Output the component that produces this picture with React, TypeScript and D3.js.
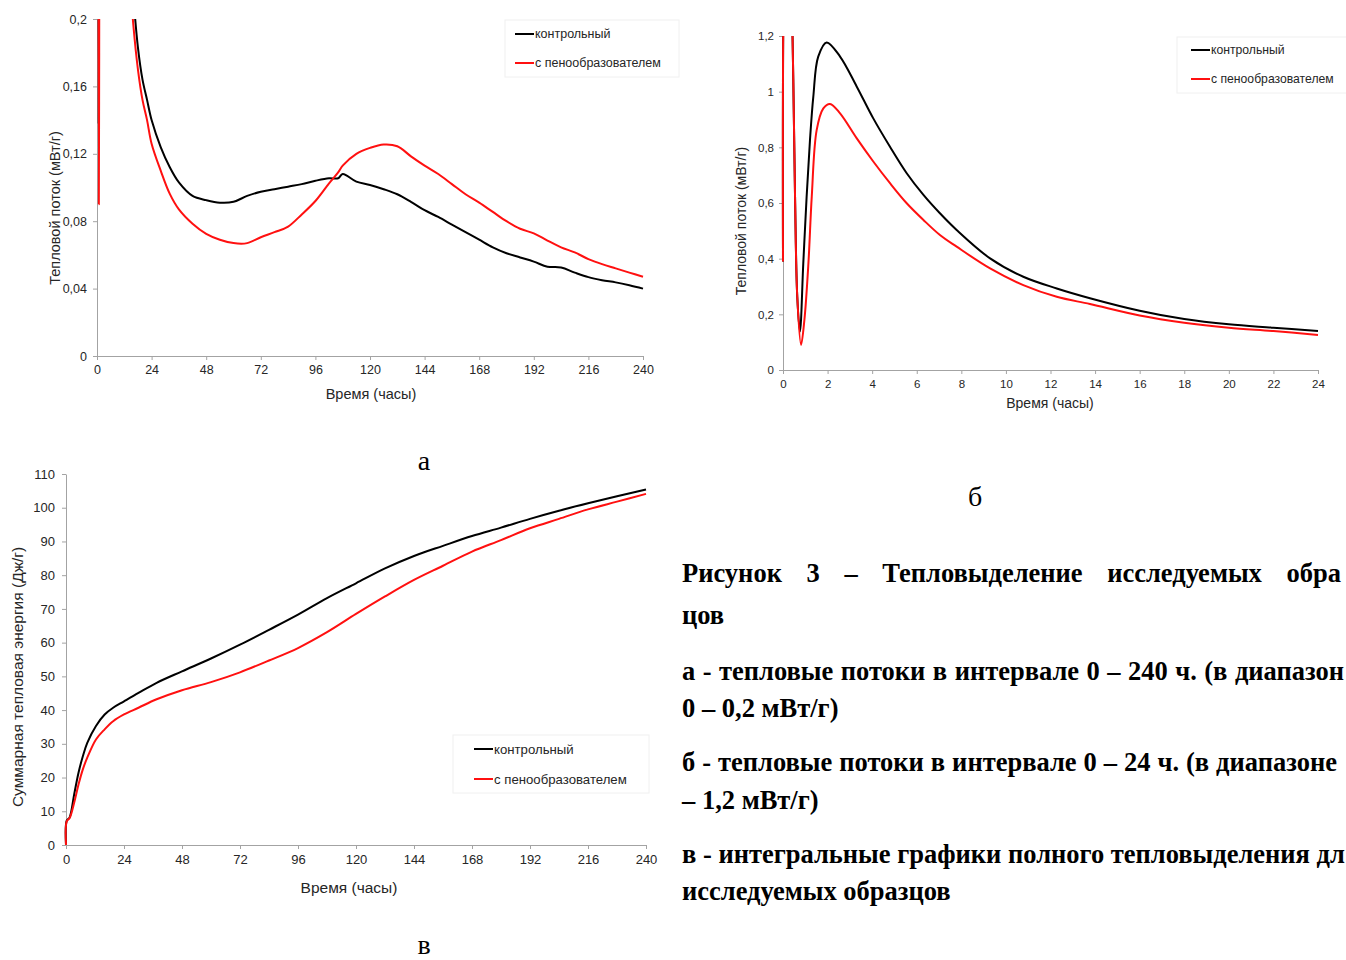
import React, { useEffect, useRef } from "react";
import * as d3 from "d3";

// Series shared by all three panels
const seriesNames = ["контрольный", "с пенообразователем"];
const seriesColors = ["#000000", "#ff1010"];

// Heat flow, 0–24 h (mW/g)
const controlHours24 = [0, 0.08, 0.25, 0.43, 0.54, 0.64, 0.76, 0.91, 1.06, 1.21, 1.36, 1.58, 1.96, 2.56, 3.31, 4.05, 4.8, 5.55, 6.3, 7.04, 7.79, 9.29, 10.78, 12.28, 13.77, 16, 18, 20, 22, 24];
const controlFlux24 = [0.39, 1.6, 1.8, 1.19, 0.623, 0.263, 0.138, 0.383, 0.623, 0.826, 0.982, 1.126, 1.177, 1.126, 1.018, 0.904, 0.802, 0.707, 0.629, 0.563, 0.503, 0.401, 0.335, 0.293, 0.258, 0.213, 0.183, 0.164, 0.152, 0.14];
const foamHours24 = [0, 0.08, 0.25, 0.43, 0.54, 0.64, 0.81, 0.96, 1.14, 1.29, 1.51, 1.81, 2.11, 2.56, 3.31, 4.05, 4.8, 5.55, 6.3, 7.04, 7.79, 9.29, 10.78, 12.28, 13.77, 16, 18, 20, 22, 24];
const foamFlux24 = [0.39, 1.6, 1.8, 1.19, 0.623, 0.263, 0.09, 0.18, 0.383, 0.623, 0.862, 0.94, 0.956, 0.922, 0.832, 0.749, 0.671, 0.599, 0.539, 0.485, 0.443, 0.365, 0.305, 0.263, 0.237, 0.196, 0.17, 0.152, 0.14, 0.126];

// Heat flow, 24–240 h (mW/g)
const fluxHoursLate = [28, 32, 36, 42, 48, 54, 60, 66, 72, 78, 84, 90, 96, 102, 106, 108, 114, 120, 126, 132, 138, 144, 150, 156, 162, 168, 174, 180, 186, 192, 198, 204, 210, 216, 222, 228, 234, 240];
const controlFluxLate = [0.124, 0.112, 0.103, 0.095, 0.0925, 0.091, 0.0915, 0.095, 0.0975, 0.099, 0.1005, 0.102, 0.104, 0.1055, 0.1055, 0.108, 0.1035, 0.1015, 0.099, 0.096, 0.0915, 0.0865, 0.0825, 0.078, 0.0735, 0.069, 0.0645, 0.061, 0.0585, 0.056, 0.053, 0.0525, 0.0495, 0.0468, 0.045, 0.0437, 0.042, 0.04];
const foamFluxLate = [0.11, 0.0962, 0.087, 0.0785, 0.0725, 0.069, 0.067, 0.067, 0.0705, 0.0735, 0.0768, 0.084, 0.092, 0.1025, 0.109, 0.113, 0.12, 0.1235, 0.1255, 0.1245, 0.1185, 0.113, 0.108, 0.102, 0.096, 0.091, 0.0855, 0.08, 0.0755, 0.0728, 0.0685, 0.0645, 0.0615, 0.0575, 0.0545, 0.052, 0.0495, 0.047];

// Cumulative heat (J/g)
const cumHours = [0, 0.3, 1.5, 3.4, 5.2, 7, 8.8, 12.4, 16, 19.5, 24, 30, 37.5, 48, 60, 72, 84, 96, 108, 120, 132, 144, 156, 168, 180, 192, 204, 216, 228, 240];
const cumControl = [0, 7.2, 8.2, 15.1, 21.5, 26.4, 30.3, 35.3, 38.7, 40.7, 42.6, 45.1, 48.1, 51.5, 55.3, 59.4, 63.8, 68.3, 73.2, 77.6, 82, 85.7, 88.7, 91.6, 94.1, 96.7, 99.1, 101.3, 103.4, 105.4];
const cumFoam = [0, 7, 8, 12.6, 18, 22.5, 25.9, 31.3, 34.3, 36.7, 38.7, 40.7, 43.2, 45.9, 48.3, 51.2, 54.7, 58.4, 63.1, 68.5, 73.7, 78.6, 82.8, 87, 90.4, 93.9, 96.7, 99.5, 101.8, 104.1];

// Tick values
const ticks240 = [0, 24, 48, 72, 96, 120, 144, 168, 192, 216, 240];
const ticks24 = [0, 2, 4, 6, 8, 10, 12, 14, 16, 18, 20, 22, 24];
const ticksFluxA = [0, 0.04, 0.08, 0.12, 0.16, 0.2];
const ticksFluxB = [0, 0.2, 0.4, 0.6, 0.8, 1, 1.2];
const ticksCum = [0, 10, 20, 30, 40, 50, 60, 70, 80, 90, 100, 110];

// Figure caption as it appears within the page width
const captionLines = [
  "Рисунок 3 – Тепловыделение исследуемых обра",
  "цов",
  "а - тепловые потоки в интервале 0 – 240 ч. (в диапазон",
  "0 – 0,2 мВт/г)",
  "б - тепловые потоки в интервале 0 – 24 ч. (в диапазоне",
  "– 1,2 мВт/г)",
  "в - интегральные графики полного тепловыделения дл",
  "исследуемых образцов",
];
// Justified lines: x where the line ends (null = left-aligned last line of a paragraph)
const captionJustifyEnd: (number | null)[] = [1341, null, 1344, null, 1337, null, 1344, null];

const SANS = "'Liberation Sans', Arial, sans-serif";
const SERIF = "'Liberation Serif', 'Times New Roman', serif";

type Pt = [number, number];
const zip = (xs: number[], ys: number[]): Pt[] => xs.map((x, i) => [x, ys[i]]);

interface Panel {
  id: string;
  box: { left: number; right: number; top: number; bottom: number };
  xDomain: [number, number];
  yDomain: [number, number];
  xTicks: number[];
  yTicks: number[];
  series: Pt[][];
  tickFont: number;
  xPad: number;
  yPad: number;
  xTitle: { x: number; y: number };
  yTitle: { text: string; x: number; y: number };
  titleFont: number;
  legend: { box: [number, number, number, number]; lineX: [number, number]; rows: number[]; font: number };
}

const comma = (v: number) => String(v).replace(".", ",");

function drawPanel(svg: d3.Selection<SVGSVGElement, unknown, null, undefined>, p: Panel) {
  const { left, right, top, bottom } = p.box;
  const x = d3.scaleLinear().domain(p.xDomain).range([left, right]);
  const y = d3.scaleLinear().domain(p.yDomain).range([bottom, top]);
  const g = svg.append("g");

  const axisColor = "#a3a3a3";
  const gx = g
    .append("g")
    .attr("transform", `translate(0,${bottom})`)
    .call(d3.axisBottom(x).tickValues(p.xTicks).tickFormat((d) => comma(+d)).tickSize(4).tickSizeOuter(0).tickPadding(p.xPad));
  const gy = g
    .append("g")
    .attr("transform", `translate(${left},0)`)
    .call(d3.axisLeft(y).tickValues(p.yTicks).tickFormat((d) => comma(+d)).tickSize(4).tickSizeOuter(0).tickPadding(p.yPad));
  [gx, gy].forEach((a) => {
    a.select(".domain").attr("stroke", axisColor);
    a.selectAll(".tick line").attr("stroke", axisColor);
    a.selectAll(".tick text").attr("fill", "#262626").attr("font-family", SANS).attr("font-size", p.tickFont);
  });

  g.append("text")
    .attr("x", p.xTitle.x)
    .attr("y", p.xTitle.y)
    .attr("text-anchor", "middle")
    .attr("dominant-baseline", "central")
    .attr("font-family", SANS)
    .attr("font-size", p.titleFont)
    .attr("fill", "#262626")
    .text("Время (часы)");
  g.append("text")
    .attr("transform", `translate(${p.yTitle.x},${p.yTitle.y}) rotate(-90)`)
    .attr("text-anchor", "middle")
    .attr("dominant-baseline", "central")
    .attr("font-family", SANS)
    .attr("font-size", p.titleFont)
    .attr("fill", "#262626")
    .text(p.yTitle.text);

  const clipId = `clip-${p.id}`;
  svg
    .append("clipPath")
    .attr("id", clipId)
    .append("rect")
    .attr("x", left - 2)
    .attr("y", top)
    .attr("width", right - left + 4)
    .attr("height", bottom - top + 1);

  const line = d3
    .line<Pt>()
    .x((d) => x(d[0]))
    .y((d) => y(d[1]))
    .curve(d3.curveCatmullRom.alpha(0.5));

  const lines = g.append("g").attr("clip-path", `url(#${clipId})`);
  p.series.forEach((s, i) => {
    lines
      .append("path")
      .attr("d", line(s) as string)
      .attr("fill", "none")
      .attr("stroke", seriesColors[i])
      .attr("stroke-width", 2)
      .attr("stroke-linejoin", "round");
  });

  const [bx0, by0, bx1, by1] = p.legend.box;
  const lg = g.append("g");
  lg.append("rect")
    .attr("x", bx0)
    .attr("y", by0)
    .attr("width", bx1 - bx0)
    .attr("height", by1 - by0)
    .attr("fill", "#ffffff")
    .attr("stroke", "#f0f0f0");
  seriesNames.forEach((name, i) => {
    const ry = p.legend.rows[i];
    lg.append("line")
      .attr("x1", p.legend.lineX[0])
      .attr("x2", p.legend.lineX[1])
      .attr("y1", ry)
      .attr("y2", ry)
      .attr("stroke", seriesColors[i])
      .attr("stroke-width", 2);
    lg.append("text")
      .attr("x", p.legend.lineX[1] + 1)
      .attr("y", ry)
      .attr("dominant-baseline", "central")
      .attr("font-family", SANS)
      .attr("font-size", p.legend.font)
      .attr("fill", "#262626")
      .text(name);
  });
}

export default function App() {
  const ref = useRef<SVGSVGElement | null>(null);

  useEffect(() => {
    if (!ref.current) return;
    const svg = d3.select(ref.current);
    svg.selectAll("*").remove();

    const panels: Panel[] = [
      {
        id: "a",
        box: { left: 97, right: 643, top: 19, bottom: 356 },
        xDomain: [0, 240],
        yDomain: [0, 0.2],
        xTicks: ticks240,
        yTicks: ticksFluxA,
        series: [
          zip(controlHours24, controlFlux24).concat(zip(fluxHoursLate, controlFluxLate)),
          zip(foamHours24, foamFlux24).concat(zip(fluxHoursLate, foamFluxLate)),
        ],
        tickFont: 12.5,
        xPad: 5,
        yPad: 6,
        xTitle: { x: 371, y: 394 },
        yTitle: { text: "Тепловой поток (мВт/г)", x: 55, y: 208 },
        titleFont: 14.5,
        legend: { box: [505, 20, 679, 77], lineX: [515, 534], rows: [34, 63], font: 12.5 },
      },
      {
        id: "b",
        box: { left: 783, right: 1318, top: 36, bottom: 370 },
        xDomain: [0, 24],
        yDomain: [0, 1.2],
        xTicks: ticks24,
        yTicks: ticksFluxB,
        series: [zip(controlHours24, controlFlux24), zip(foamHours24, foamFlux24)],
        tickFont: 11.5,
        xPad: 6,
        yPad: 5,
        xTitle: { x: 1050, y: 403 },
        yTitle: { text: "Тепловой поток (мВт/г)", x: 741, y: 221 },
        titleFont: 14,
        legend: { box: [1177, 37, 1350, 93], lineX: [1191, 1210], rows: [50, 79], font: 12.2 },
      },
      {
        id: "c",
        box: { left: 66, right: 646, top: 474, bottom: 845 },
        xDomain: [0, 240],
        yDomain: [0, 110],
        xTicks: ticks240,
        yTicks: ticksCum,
        series: [zip(cumHours, cumControl), zip(cumHours, cumFoam)],
        tickFont: 13,
        xPad: 6,
        yPad: 7,
        xTitle: { x: 349, y: 887 },
        yTitle: { text: "Суммарная тепловая энергия (Дж/г)", x: 17, y: 677 },
        titleFont: 15.5,
        legend: { box: [453, 735, 649, 793], lineX: [474, 493], rows: [749, 779], font: 13.2 },
      },
    ];
    panels.forEach((p) => drawPanel(svg, p));

    // Panel letters
    const letters: [string, number, number][] = [
      ["а", 424, 470],
      ["б", 975, 506],
      ["в", 424, 954],
    ];
    letters.forEach(([t, lx, ly]) => {
      svg
        .append("text")
        .attr("x", lx)
        .attr("y", ly)
        .attr("text-anchor", "middle")
        .attr("font-family", SERIF)
        .attr("font-size", 28)
        .attr("fill", "#000")
        .text(t);
    });

    // Figure caption; justified lines get the word spacing that brings their end to the set x
    const capX = 682;
    const baselines = [582, 624, 680, 717, 771, 809, 863, 900];
    captionLines.forEach((t, i) => {
      const text = svg
        .append("text")
        .attr("x", capX)
        .attr("y", baselines[i])
        .attr("font-family", SERIF)
        .attr("font-weight", "bold")
        .attr("font-size", 26.5)
        .attr("fill", "#000")
        .text(t);
      const endX = captionJustifyEnd[i];
      if (endX != null) {
        const natural = (text.node() as SVGTextElement).getComputedTextLength();
        const spaces = t.split(" ").length - 1;
        text.attr("word-spacing", Math.max(0, (endX - capX - natural) / spaces));
      }
    });
  }, []);

  return (
    <svg
      ref={ref}
      width={1346}
      height={960}
      style={{ position: "absolute", left: 0, top: 0, background: "#fff", overflow: "hidden" }}
    />
  );
}
